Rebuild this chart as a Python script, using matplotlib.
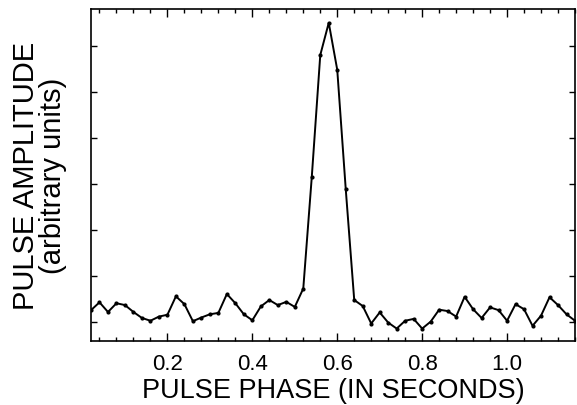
import numpy as np
import matplotlib
matplotlib.use("Agg")
import matplotlib.pyplot as plt
from matplotlib.ticker import MultipleLocator, NullFormatter

# Data (phase in seconds, amplitude in arbitrary units)
phase_start = 0.02
phase_step = 0.02
amplitude = [0.26, 0.43, 0.22, 0.41, 0.37, 0.22, 0.09, 0.03, 0.12, 0.16,
             0.56, 0.39, 0.02, 0.10, 0.17, 0.20, 0.61, 0.41, 0.17, 0.04,
             0.34, 0.48, 0.37, 0.44, 0.33, 0.73, 3.15, 5.80, 6.50, 5.48,
             2.89, 0.48, 0.35, -0.03, 0.21, -0.01, -0.14, 0.03, 0.07, -0.14,
             0.01, 0.27, 0.24, 0.12, 0.55, 0.28, 0.09, 0.32, 0.26, 0.03,
             0.39, 0.28, -0.08, 0.14, 0.54, 0.37, 0.17, 0.03]
phase = [round(phase_start + phase_step * i, 2) for i in range(len(amplitude))]
xtick_labels = ["0.2", "0.4", "0.6", "0.8", "1.0"]
xtick_values = [0.2, 0.4, 0.6, 0.8, 1.0]

plt.rcParams['font.family'] = ['Liberation Sans', 'DejaVu Sans']

fig = plt.figure(figsize=(5.77, 4.06), dpi=100)
ax = fig.add_axes([91/577, 64/406, 484/577, 332/406])

ax.plot(phase, amplitude, color='black', lw=1.4, marker='o', ms=2.0,
        clip_on=True)

ax.set_xlim(0.02, 1.16)
ax.set_ylim(-0.41, 6.80)

ax.set_xticks(xtick_values)
ax.set_xticklabels(xtick_labels)
ax.xaxis.set_minor_locator(MultipleLocator(0.04))
ax.yaxis.set_major_locator(MultipleLocator(1))
ax.yaxis.set_major_formatter(NullFormatter())

ax.tick_params(axis='both', which='both', direction='in', top=True, right=True,
               width=1.0, color='black')
ax.tick_params(axis='x', which='major', length=6, labelsize=16, pad=9)
ax.tick_params(axis='x', which='minor', length=3)
ax.tick_params(axis='y', which='major', length=4)

for s in ax.spines.values():
    s.set_linewidth(1.2)

ax.set_xlabel("PULSE PHASE (IN SECONDS)", fontsize=19.5, labelpad=2)
ax.set_ylabel("PULSE AMPLITUDE\n(arbitrary units)", fontsize=21, labelpad=14,
              linespacing=0.95)

fig.savefig("out.png", dpi=100)
